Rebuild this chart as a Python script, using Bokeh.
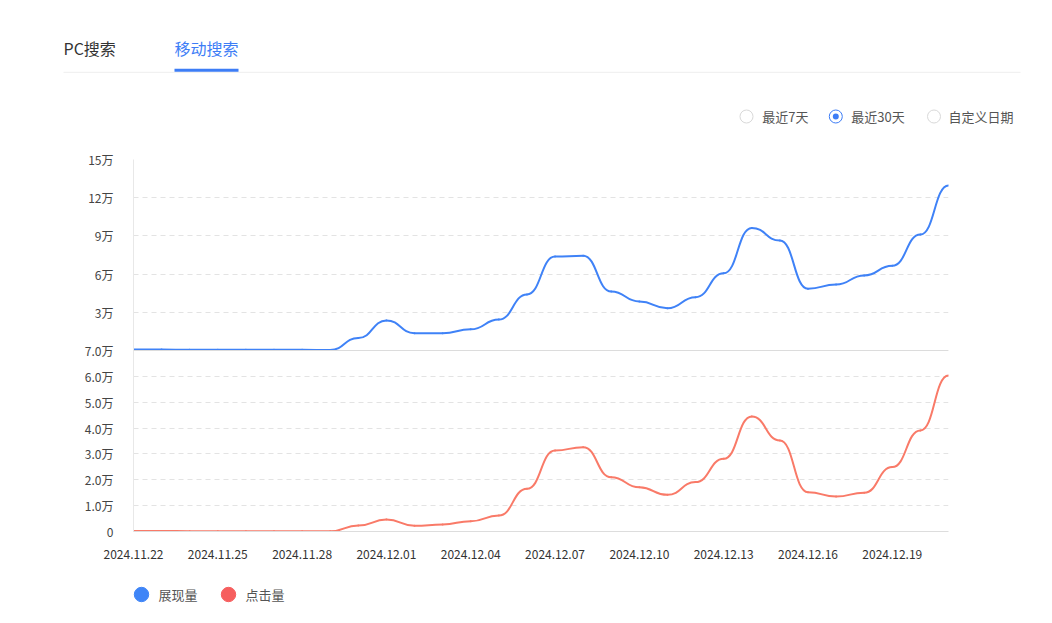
from bokeh.plotting import figure
from bokeh.models import Range1d, FixedTicker, Span, Legend, LegendItem, ColumnDataSource
from bokeh.layouts import column
from bokeh.embed import file_html
from bokeh.resources import INLINE
from bokeh.core.properties import value

# ---------------- data ----------------
dates = ["2024.11.22", "2024.11.23", "2024.11.24", "2024.11.25", "2024.11.26",
         "2024.11.27", "2024.11.28", "2024.11.29", "2024.11.30", "2024.12.01",
         "2024.12.02", "2024.12.03", "2024.12.04", "2024.12.05", "2024.12.06",
         "2024.12.07", "2024.12.08", "2024.12.09", "2024.12.10", "2024.12.11",
         "2024.12.12", "2024.12.13", "2024.12.14", "2024.12.15", "2024.12.16",
         "2024.12.17", "2024.12.18", "2024.12.19", "2024.12.20", "2024.12.21"]
# 展现量 (万)
impressions = [0.08, 0.07, 0.06, 0.06, 0.06, 0.05, 0.05, 0.03, 0.98, 2.36,
               1.36, 1.36, 1.66, 2.43, 4.40, 7.38, 7.44, 4.63, 3.85, 3.32,
               4.19, 6.07, 9.63, 8.64, 4.85, 5.18, 5.89, 6.65, 9.11, 12.96]
# 点击量 (万)
clicks = [0.02, 0.02, 0.01, 0.01, 0.01, 0.01, 0.01, 0.01, 0.23, 0.46,
          0.22, 0.27, 0.40, 0.62, 1.65, 3.13, 3.26, 2.10, 1.71, 1.42,
          1.91, 2.81, 4.45, 3.52, 1.52, 1.35, 1.50, 2.49, 3.91, 6.03]
series_names = ["展现量", "点击量"]
top_tick_values = [3, 6, 9, 12, 15]
top_tick_labels = ["3万", "6万", "9万", "12万", "15万"]
bottom_tick_values = [0, 1, 2, 3, 4, 5, 6, 7]
bottom_tick_labels = ["0", "1.0万", "2.0万", "3.0万", "4.0万", "5.0万", "6.0万", "7.0万"]
x_tick_step = 3
tabs = ["PC搜索", "移动搜索"]
radio_labels = ["最近7天", "最近30天", "自定义日期"]

FONT = "Noto Sans CJK SC"
BLUE = "#3f82f7"
BLUE_DOT = "#3f85f7"
RED = "#f97a68"
RED_DOT = "#f65e5e"
TAB_BLUE = "#3d7df6"
W = 1044

# ---------------- header ----------------
HDR_H = 140
hdr = figure(width=W, height=HDR_H, x_range=Range1d(0, W), y_range=Range1d(HDR_H, 0),
             output_backend="svg", toolbar_location=None, min_border=0,
             x_axis_location=None, y_axis_location=None)
hdr.frame_align = False
hdr.grid.visible = False
hdr.outline_line_color = None

hdr.text(x=[63], y=[47], text=[tabs[0]], text_font=value(FONT), text_font_size="16px",
         text_color="#333333", text_baseline="middle", text_align="left")
hdr.text(x=[174], y=[47], text=[tabs[1]], text_font=value(FONT), text_font_size="16px",
         text_color=TAB_BLUE, text_baseline="middle", text_align="left")
hdr.segment(x0=[63], y0=[71.8], x1=[1020], y1=[71.8], line_color="#eeeeee", line_width=1)
hdr.quad(left=[174], right=[238], top=[68.3], bottom=[71.3], fill_color=TAB_BLUE, line_color=None)

hdr.scatter(x=[746, 933.5], y=[116, 116], size=13, marker="circle",
            fill_color="white", line_color="#d9d9d9", line_width=1)
hdr.scatter(x=[835.3], y=[116], size=13, marker="circle",
            fill_color="white", line_color=TAB_BLUE, line_width=1)
hdr.scatter(x=[835.3], y=[116], size=6, marker="circle",
            fill_color=TAB_BLUE, line_color=None)
hdr.text(x=[761.7, 850.7, 948], y=[116, 116, 116], text=radio_labels, text_font=value(FONT),
         text_font_size="13px", text_color="#555555", text_baseline="middle", text_align="left")

# ---------------- chart ----------------
FRAME_H = 372.0
BOTTOM_H = 181.0   # pixels used by 点击量 panel
TOP_H = FRAME_H - BOTTOM_H
b_max = bottom_tick_values[-1]
t_max = top_tick_values[-1]
y_end = b_max * FRAME_H / BOTTOM_H
top_start = -t_max * BOTTOM_H / TOP_H


def top_to_axis(v):
    return b_max + v * (y_end - b_max) / t_max


p = figure(width=W, height=430, x_range=Range1d(0, len(dates) - 1),
           y_range=Range1d(0, top_to_axis(t_max)),
           output_backend="svg", toolbar_location=None,
           min_border_left=133, min_border_right=96, min_border_top=19, min_border_bottom=39)
p.frame_align = False
p.extra_y_ranges = {"top": Range1d(top_start, t_max)}
p.outline_line_color = None
p.xgrid.visible = False

ytick_pos = bottom_tick_values + [top_to_axis(v) for v in top_tick_values]
ytick_lab = bottom_tick_labels + top_tick_labels
p.yaxis.ticker = FixedTicker(ticks=ytick_pos)
p.yaxis.major_label_overrides = {pos: lab for pos, lab in zip(ytick_pos, ytick_lab)}
p.yaxis.axis_line_color = "#e8e8e8"
p.yaxis.major_tick_line_color = None
p.yaxis.minor_tick_line_color = None
p.yaxis.major_tick_out = 0
p.yaxis.major_tick_in = 0
p.yaxis.major_label_standoff = 20
p.yaxis.major_label_text_font = FONT
p.yaxis.major_label_text_font_size = "12px"
p.yaxis.major_label_text_color = "#444444"

xt = list(range(0, len(dates), x_tick_step))
p.xaxis.ticker = FixedTicker(ticks=xt)
p.xaxis.major_label_overrides = {i: dates[i] for i in xt}
p.xaxis.axis_line_color = "#dddddd"
p.xaxis.major_tick_line_color = None
p.xaxis.minor_tick_line_color = None
p.xaxis.major_tick_out = 0
p.xaxis.major_tick_in = 0
p.xaxis.major_label_standoff = 18
p.xaxis.major_label_text_font = FONT
p.xaxis.major_label_text_font_size = "12px"
p.xaxis.major_label_text_color = "#333333"

p.ygrid.ticker = FixedTicker(ticks=ytick_pos)
p.ygrid.grid_line_color = "#e3e3e3"
p.ygrid.grid_line_dash = "5 4"
p.add_layout(Span(location=b_max, dimension="width", line_color="#dcdcdc", line_width=1))


def smooth_segments(vals, s=0.5):
    xs = list(range(len(vals)))
    d = dict(x0=[], y0=[], x1=[], y1=[], cx0=[], cy0=[], cx1=[], cy1=[])
    for i in range(len(vals) - 1):
        dx = xs[i + 1] - xs[i]
        d["x0"].append(xs[i]); d["y0"].append(vals[i])
        d["x1"].append(xs[i + 1]); d["y1"].append(vals[i + 1])
        d["cx0"].append(xs[i] + s * dx); d["cy0"].append(vals[i])
        d["cx1"].append(xs[i + 1] - s * dx); d["cy1"].append(vals[i + 1])
    return ColumnDataSource(d)


bez_kw = dict(x0="x0", y0="y0", x1="x1", y1="y1", cx0="cx0", cy0="cy0", cx1="cx1", cy1="cy1")
p.bezier(source=smooth_segments(impressions), line_color=BLUE, line_width=2,
         line_cap="round", y_range_name="top", **bez_kw)
p.bezier(source=smooth_segments(clicks), line_color=RED, line_width=2,
         line_cap="round", **bez_kw)

# ---------------- legend (footer) ----------------
FTR_H = 45
# footer ranges exclude the legend-sample renderers' point, so only the legend shows them
ftr = figure(width=W, height=FTR_H, x_range=Range1d(1, 2), y_range=Range1d(1, 2),
             output_backend="svg", toolbar_location=None, min_border=0,
             x_axis_location=None, y_axis_location=None)
ftr.frame_align = False
ftr.grid.visible = False
ftr.outline_line_color = None
r1 = ftr.scatter(x=[0], y=[0], marker="circle", size=14, fill_color=BLUE_DOT, line_color=BLUE_DOT)
r2 = ftr.scatter(x=[0], y=[0], marker="circle", size=14, fill_color=RED_DOT, line_color=RED_DOT)
legend = Legend(items=[LegendItem(label=series_names[0], renderers=[r1]),
                       LegendItem(label=series_names[1], renderers=[r2])],
                location=(122.5, 3), orientation="horizontal",
                glyph_width=36, glyph_height=36, label_standoff=0, spacing=12,
                padding=0, margin=0, border_line_color=None, background_fill_alpha=0,
                label_text_font=FONT, label_text_font_size="13px", label_text_color="#555555")
ftr.add_layout(legend)

layout = column(hdr, p, ftr)
open("out.html", "w").write(file_html(layout, INLINE))
